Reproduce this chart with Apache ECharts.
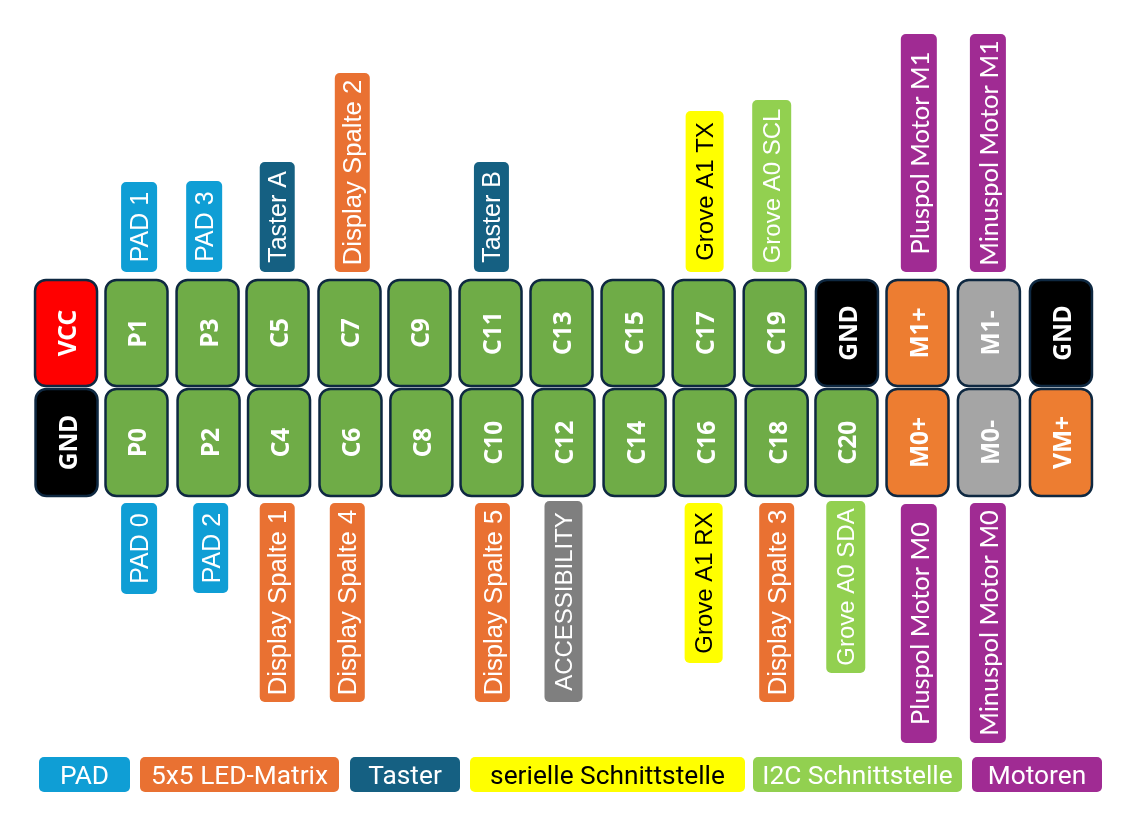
<!DOCTYPE html>
<html><head><meta charset="utf-8">
<style>html,body{margin:0;padding:0;background:#fff}#c{width:1128px;height:830px}</style>
<script src="https://cdn.jsdelivr.net/npm/echarts@6/dist/echarts.min.js"></script>
</head><body><div id="c"></div>
<script>
// ---------- data ----------
const columns = ['1','2','3','4','5','6','7','8','9','10','11','12','13','14','15'];
const pinsTop = ['VCC','P1','P3','C5','C7','C9','C11','C13','C15','C17','C19','GND','M1+','M1-','GND'];
const pinsBottom = ['GND','P0','P2','C4','C6','C8','C10','C12','C14','C16','C18','C20','M0+','M0-','VM+'];
const topNames = ['PAD 1','PAD 3','Taster A','Display Spalte 2','Taster B','Grove A1 TX','Grove A0 SCL','Pluspol Motor M1','Minuspol Motor M1'];
const topColumns = [1,2,3,4,6,9,10,12,13];
const topLengths = [90,91,110,199,110,161,172,238,238];
const topGroups = ['PAD','PAD','Taster','LED','Taster','Serial','I2C','Motor','Motor'];
const bottomNames = ['PAD 0','PAD 2','Display Spalte 1','Display Spalte 4','Display Spalte 5','ACCESSIBILITY','Grove A1 RX','Display Spalte 3','Grove A0 SDA','Pluspol Motor M0','Minuspol Motor M0'];
const bottomColumns = [1,2,3,4,6,7,9,10,11,12,13];
const bottomLengths = [91,90,199,199,199,201,160,199,172,239,240];
const bottomGroups = ['PAD','PAD','LED','LED','LED','Access','Serial','LED','I2C','Motor','Motor'];
const legendNames = ['PAD','5x5 LED-Matrix','Taster','serielle Schnittstelle','I2C Schnittstelle','Motoren'];
const legendGroups = ['PAD','LED','Taster','Serial','I2C','Motor'];

// ---------- styles and layout ----------
const groupFill = {PAD:'#0F9ED5',LED:'#E97132',Taster:'#156082',Serial:'#FFFF00',I2C:'#92D050',Motor:'#A02B93',Access:'#7F7F7F'};
const groupText = {Serial:'#000000'};
const groupFont = {PAD:'25px "Liberation Sans"',LED:'25.7px "Liberation Sans"',Taster:'25px "Liberation Sans"',Serial:'24px "Liberation Sans"',I2C:'24px "Liberation Sans"',Motor:'25.5px Lato',Access:'24px "Liberation Sans"'};
const pinFill = n => n==='VCC'?'#FF0000':n==='GND'?'#000000':n[0]==='V'||n.endsWith('+')?'#ED7D31':n.endsWith('-')?'#A5A5A5':'#6FAC47';
const topPinNudge = [0,-.6,-.6,-1.7,-.8,-1.9,-1.9,-2,-2,-2,-2,-.8,-1.3,-1,0];
const bottomPinNudge = [.5,-.6,.4,-.2,.2,0,-.9,0,0,-1,0,-1.3,-1.3,-1,0];
const topLabelNudge = [2,-4,-2,2,-1,-1,-5,0,-2];
const bottomLabelNudge = [2,2.5,-2,-3,0,0,-2,0,-2,0,-2];
const topWidths = [36,36,35,35,35,38,39,36,36];
const bottomWidths = [36,35,35,35,35,38,38,35,39,36,36];
const bottomStartNudge = [0,0,0,0,0,-2,0,0,-2,1,0];
const legendBox = [[39,130],[140,339],[350,460],[470,745],[753,962],[972,1102]];

const chart = echarts.init(document.getElementById('c'), null, {renderer:'canvas'});

function pinItem(names, nudges){
  return function(params, api){
    const i = params.dataIndex, name = names[i];
    const a = api.coord([api.value(0), api.value(1)]);
    const b = api.coord([api.value(0), api.value(2)]);
    const w = 62, x = a[0] + nudges[i] - w/2, y = Math.min(a[1], b[1]), h = Math.abs(a[1]-b[1]);
    return {type:'group',children:[
      {type:'rect',shape:{x,y,width:w,height:h,r:11},style:{fill:pinFill(name),stroke:'#0E2841',lineWidth:2.5}},
      {type:'text',x:x+w/2+3,y:y+h/2,rotation:Math.PI/2,style:{text:name,fill:'#fff',font:'bold 24.5px "Noto Sans"',textAlign:'center',textVerticalAlign:'middle'}}
    ]};
  };
}
function labelItem(names, groups, nudges, widths){
  return function(params, api){
    const i = params.dataIndex, name = names[i], g = groups[i];
    const a = api.coord([api.value(0), api.value(1)]);
    const b = api.coord([api.value(0), api.value(2)]);
    const w = widths[i], x = a[0] + nudges[i] - w/2, y = Math.min(a[1], b[1]), h = Math.abs(a[1]-b[1]);
    return {type:'group',children:[
      {type:'rect',shape:{x,y,width:w,height:h,r:5},style:{fill:groupFill[g]}},
      {type:'text',x:x+w/2+2,y:y+h/2,rotation:Math.PI/2,style:{text:name,fill:groupText[g]||'#fff',font:groupFont[g],textAlign:'center',textVerticalAlign:'middle'}}
    ]};
  };
}
const TOP_BASE = 116, BOTTOM_BASE = 115;
const custom = (render, data) => ({type:'custom',coordinateSystem:'cartesian2d',renderItem:render,data,silent:true,animation:false,clip:false});

chart.setOption({
  animation:false,
  grid:{left:30.5,width:1066,top:0,height:830,containLabel:false},
  xAxis:{type:'category',data:columns,show:false},
  yAxis:{type:'value',min:-442,max:388,show:false},
  series:[
    custom(pinItem(pinsTop,topPinNudge), pinsTop.map((n,i)=>[i,2,108])),
    custom(pinItem(pinsBottom,bottomPinNudge), pinsBottom.map((n,i)=>[i,-1,-108])),
    custom(labelItem(topNames,topGroups,topLabelNudge,topWidths), topColumns.map((c,i)=>[c,TOP_BASE,TOP_BASE+topLengths[i]])),
    custom(labelItem(bottomNames,bottomGroups,bottomLabelNudge,bottomWidths), bottomColumns.map((c,i)=>{
      const s = BOTTOM_BASE + bottomStartNudge[i];
      return [c,-s,-s-bottomLengths[i]];
    }))
  ],
  graphic:legendNames.flatMap((n,i)=>{
    const [l,r]=legendBox[i], g=legendGroups[i];
    return [
      {type:'rect',x:l,y:757,shape:{width:r-l,height:35,r:5},style:{fill:groupFill[g]}},
      {type:'text',x:(l+r)/2,y:777.5,style:{text:n,fill:groupText[g]||'#fff',font:'26.3px Roboto',textAlign:'center',textVerticalAlign:'middle'}}
    ];
  })
});
</script></body></html>
